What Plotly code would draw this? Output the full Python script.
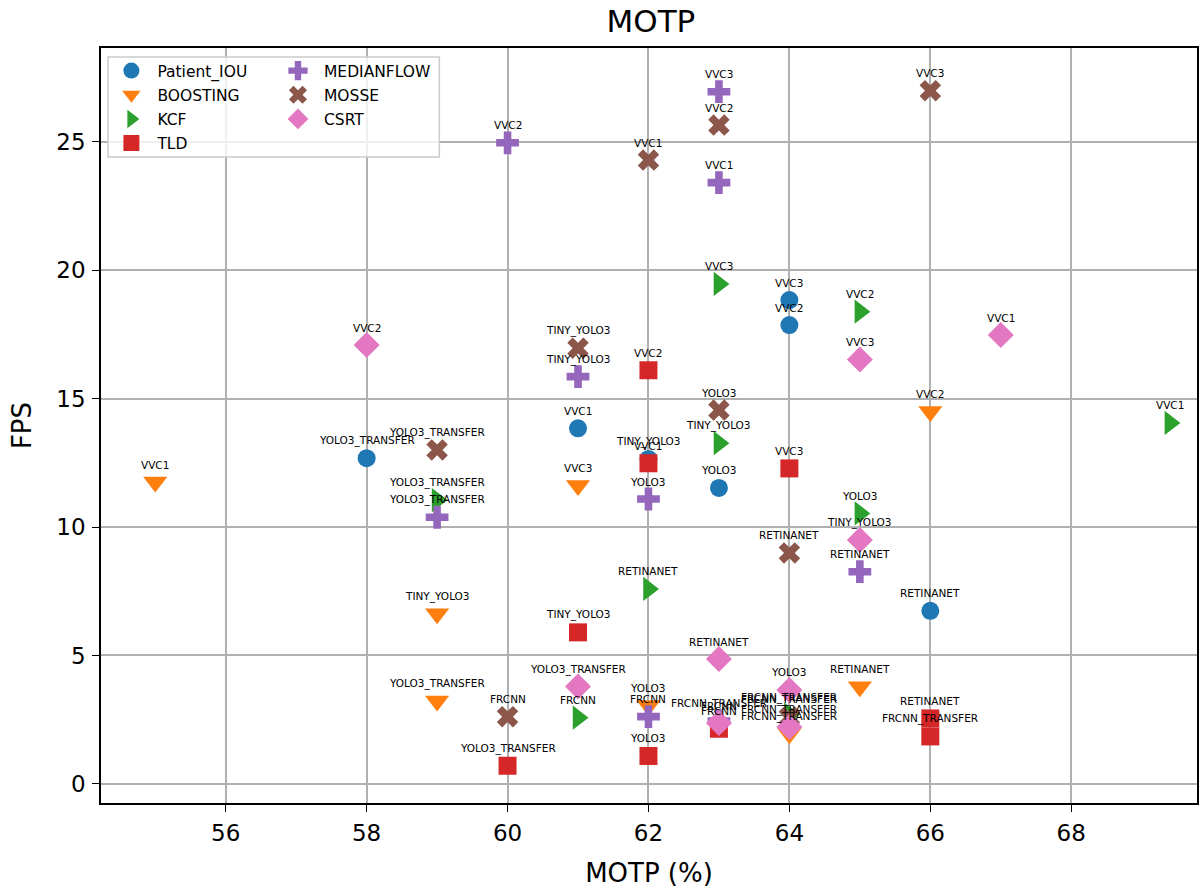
import plotly.graph_objects as go

TRACKERS = ["Patient_IOU", "BOOSTING", "KCF", "TLD", "MEDIANFLOW", "MOSSE", "CSRT"]
COLORS = ["#1f77b4", "#ff7f0e", "#2ca02c", "#d62728", "#9467bd", "#8c564b", "#e377c2"]
SYMBOLS = ["circle", "triangle-down", "triangle-right", "square", "cross", "x", "diamond"]

PATIENT_IOU_DET = ["VVC1", "VVC2", "VVC3", "TINY_YOLO3", "YOLO3", "YOLO3_TRANSFER", "RETINANET"]
PATIENT_IOU_MOTP = [61, 64, 64, 62, 63, 58, 66]
PATIENT_IOU_FPS = [13.84, 17.86, 18.83, 12.65, 11.52, 12.68, 6.74]

BOOSTING_DET = ["VVC1", "VVC2", "VVC3", "TINY_YOLO3", "YOLO3", "YOLO3_TRANSFER", "RETINANET", "FRCNN_TRANSFER"]
BOOSTING_MOTP = [55, 66, 61, 59, 62, 59, 65, 64]
BOOSTING_FPS = [11.75, 14.49, 11.62, 6.62, 3.05, 3.23, 3.78, 1.95]

KCF_DET = ["VVC1", "VVC2", "VVC3", "TINY_YOLO3", "YOLO3", "YOLO3_TRANSFER", "RETINANET", "FRCNN", "FRCNN_TRANSFER"]
KCF_MOTP = [69.4, 65, 63, 63, 65, 59, 62, 61, 64]
KCF_FPS = [14.05, 18.38, 19.46, 13.26, 10.53, 11.05, 7.59, 2.58, 2.7]

TLD_DET = ["VVC1", "VVC2", "VVC3", "TINY_YOLO3", "YOLO3", "YOLO3_TRANSFER", "RETINANET", "FRCNN", "FRCNN_TRANSFER"]
TLD_MOTP = [62, 62, 64, 61, 62, 60, 66, 63, 66]
TLD_FPS = [12.48, 16.1, 12.28, 5.9, 1.09, 0.71, 2.55, 2.15, 1.85]

MEDIANFLOW_DET = ["VVC1", "VVC2", "VVC3", "TINY_YOLO3", "YOLO3", "YOLO3_TRANSFER", "RETINANET", "FRCNN", "FRCNN_TRANSFER"]
MEDIANFLOW_MOTP = [63, 60, 63, 61, 62, 59, 65, 62, 63]
MEDIANFLOW_FPS = [23.4, 24.95, 26.94, 15.85, 11.09, 10.38, 8.26, 2.62, 2.45]

MOSSE_DET = ["VVC1", "VVC2", "VVC3", "TINY_YOLO3", "YOLO3", "YOLO3_TRANSFER", "RETINANET", "FRCNN", "FRCNN_TRANSFER"]
MOSSE_MOTP = [62, 63, 66, 61, 63, 59, 64, 60, 64]
MOSSE_FPS = [24.28, 25.64, 26.98, 16.96, 14.55, 13.0, 8.99, 2.62, 2.6]

CSRT_DET = ["VVC1", "VVC2", "VVC3", "TINY_YOLO3", "YOLO3", "YOLO3_TRANSFER", "RETINANET", "FRCNN", "FRCNN_TRANSFER"]
CSRT_MOTP = [67, 58, 65, 65, 64, 61, 63, 63, 64]
CSRT_FPS = [17.47, 17.08, 16.52, 9.49, 3.66, 3.79, 4.86, 2.37, 2.22]

X_TICKS = [56, 58, 60, 62, 64, 66, 68]
Y_TICKS = [0, 5, 10, 15, 20, 25]

DATA = [
    (PATIENT_IOU_DET, PATIENT_IOU_MOTP, PATIENT_IOU_FPS),
    (BOOSTING_DET, BOOSTING_MOTP, BOOSTING_FPS),
    (KCF_DET, KCF_MOTP, KCF_FPS),
    (TLD_DET, TLD_MOTP, TLD_FPS),
    (MEDIANFLOW_DET, MEDIANFLOW_MOTP, MEDIANFLOW_FPS),
    (MOSSE_DET, MOSSE_MOTP, MOSSE_FPS),
    (CSRT_DET, CSRT_MOTP, CSRT_FPS),
]

SIZES = [18, 21, 21, 18, 19, 19, 20]
LEGEND_RANK = [1, 2, 3, 4, 1, 2, 3]
LEGEND_ID = ["legend", "legend", "legend", "legend", "legend2", "legend2", "legend2"]

fig = go.Figure()
annotations = []
for i, (name, (det, xs, ys)) in enumerate(zip(TRACKERS, DATA)):
    fig.add_trace(go.Scatter(
        x=xs, y=ys, mode="markers", name=name,
        marker=dict(symbol=SYMBOLS[i], color=COLORS[i], size=SIZES[i], line=dict(width=0)),
        legend=LEGEND_ID[i], legendrank=LEGEND_RANK[i], legendgroup=name,
    ))
    for d, x, y in zip(det, xs, ys):
        annotations.append(dict(
            x=x, y=y, text=d, showarrow=False, yshift=17.5, xref="x", yref="y",
            font=dict(family="DejaVu Sans", size=10.5, color="black"),
        ))

fig.update_layout(
    width=1202, height=888,
    margin=dict(l=101, r=3, t=48, b=85),
    paper_bgcolor="white", plot_bgcolor="white",
    font=dict(family="DejaVu Sans", color="black"),
    title=dict(text="MOTP", x=0.5415, xanchor="center", y=0.976, yanchor="middle",
               font=dict(size=31, family="DejaVu Sans", color="black")),
    annotations=annotations,
    xaxis=dict(
        range=[54.23, 69.785], tickvals=X_TICKS, ticks="outside", ticklen=7, tickwidth=1.3,
        tickcolor="black", showline=True, linecolor="black", linewidth=1.5, mirror=True,
        showgrid=True, gridcolor="#b0b0b0", gridwidth=1.6, zeroline=False,
        tickfont=dict(size=23), ticklabelstandoff=2,
        title=dict(text="MOTP (%)", font=dict(size=26), standoff=18),
    ),
    yaxis=dict(
        range=[-0.74, 28.64], tickvals=Y_TICKS, ticks="outside", ticklen=7, tickwidth=1.3,
        tickcolor="black", showline=True, linecolor="black", linewidth=1.5, mirror=True,
        showgrid=True, gridcolor="#b0b0b0", gridwidth=1.6, zeroline=False,
        tickfont=dict(size=23), ticklabelstandoff=2,
        title=dict(text="FPS", font=dict(size=26), standoff=17),
    ),
    legend=dict(x=0.004, y=0.992, xanchor="left", yanchor="top", bgcolor="rgba(0,0,0,0)",
                font=dict(size=15.5), traceorder="grouped", tracegroupgap=1,
                itemsizing="trace", itemwidth=42),
    legend2=dict(x=0.156, y=0.992, xanchor="left", yanchor="top", bgcolor="rgba(0,0,0,0)",
                 font=dict(size=15.5), traceorder="grouped", tracegroupgap=1,
                 itemsizing="trace", itemwidth=42),
    shapes=[dict(type="rect", xref="paper", yref="paper", x0=0.0064, x1=0.3087, y0=0.8556, y1=0.988,
                 line=dict(color="#cccccc", width=1.5), fillcolor="rgba(255,255,255,0.8)", layer="above")],
)

fig.write_html("out.html")
